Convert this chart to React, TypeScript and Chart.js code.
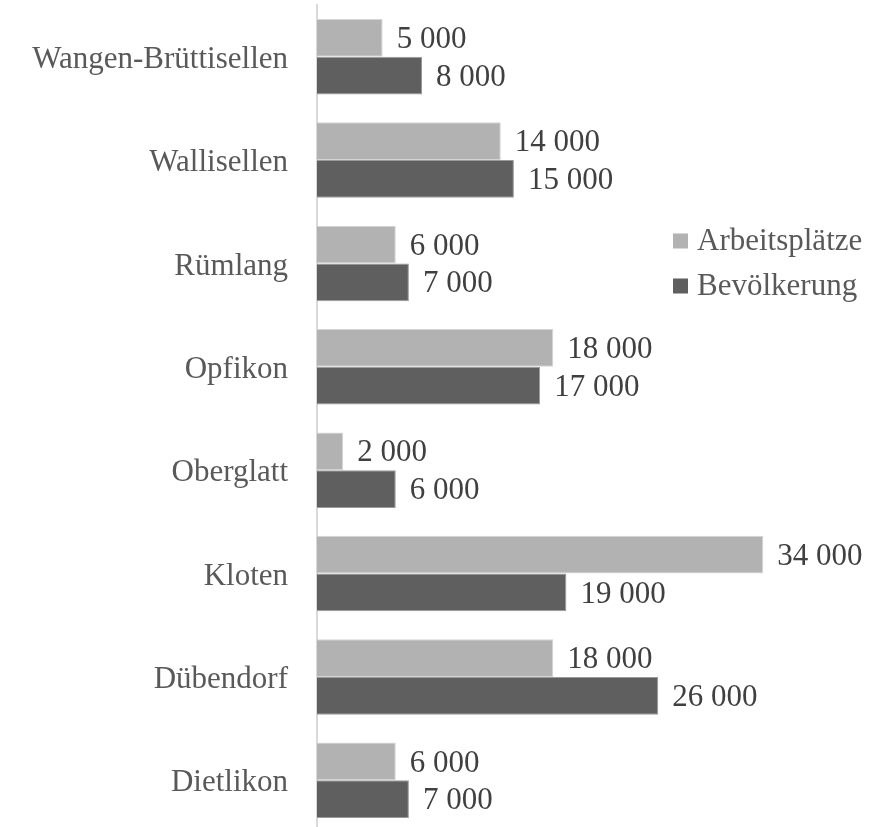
import React, { useEffect, useRef } from "react";
import { Chart, registerables } from "chart.js";

Chart.register(...registerables);

const categories = [
  "Wangen-Brüttisellen",
  "Wallisellen",
  "Rümlang",
  "Opfikon",
  "Oberglatt",
  "Kloten",
  "Dübendorf",
  "Dietlikon",
];
const arbeitsplaetze = [5000, 14000, 6000, 18000, 2000, 34000, 18000, 6000];
const bevoelkerung = [8000, 15000, 7000, 17000, 6000, 19000, 26000, 7000];
const seriesNames = ["Arbeitsplätze", "Bevölkerung"];
const seriesColors = ["#b2b2b2", "#5f5f5f"];

const FONT = "'Liberation Serif', 'Times New Roman', serif";

function fmt(v: number): string {
  const s = String(Math.round(v));
  return s.replace(/\B(?=(\d{3})+(?!\d))/g, " ");
}

const labelPlugin = {
  id: "barLabels",
  afterDatasetsDraw(chart: any) {
    const ctx = chart.ctx;
    ctx.save();
    ctx.font = `31px ${FONT}`;
    ctx.fillStyle = "#404040";
    ctx.textAlign = "left";
    ctx.textBaseline = "middle";
    chart.data.datasets.forEach((ds: any, di: number) => {
      const meta = chart.getDatasetMeta(di);
      meta.data.forEach((bar: any, i: number) => {
        ctx.fillText(fmt(ds.data[i]), bar.x + 14, bar.y + 2);
      });
    });
    ctx.restore();
  },
};

const legendPlugin = {
  id: "customLegend",
  afterDraw(chart: any) {
    const ctx = chart.ctx;
    ctx.save();
    ctx.font = `31px ${FONT}`;
    ctx.textAlign = "left";
    ctx.textBaseline = "middle";
    const x0 = 673;
    const ys = [241, 286];
    seriesNames.forEach((name, i) => {
      ctx.fillStyle = seriesColors[i];
      ctx.fillRect(x0, ys[i] - 7.5, 15, 15);
      ctx.fillStyle = "#595959";
      ctx.fillText(name, x0 + 24, ys[i] + 1);
    });
    ctx.restore();
  },
};

export default function App() {
  const ref = useRef<HTMLCanvasElement | null>(null);
  useEffect(() => {
    if (!ref.current) return;
    const chart = new Chart(ref.current, {
      type: "bar",
      data: {
        labels: categories,
        datasets: [
          {
            label: seriesNames[0],
            data: arbeitsplaetze,
            backgroundColor: seriesColors[0],
            borderColor: "#d4d4d4",
            borderWidth: 1,
          },
          {
            label: seriesNames[1],
            data: bevoelkerung,
            backgroundColor: seriesColors[1],
            borderColor: "#9a9a9a",
            borderWidth: 1,
          },
        ],
      },
      options: {
        indexAxis: "y",
        animation: false,
        responsive: false,
        maintainAspectRatio: false,
        categoryPercentage: 0.73,
        barPercentage: 1,
        layout: { padding: { top: 5, bottom: 4, left: 0, right: 0 } },
        plugins: {
          legend: { display: false },
          tooltip: { enabled: false },
        },
        scales: {
          x: {
            display: false,
            min: 0,
            max: 43500,
          },
          y: {
            afterFit: (scale: any) => {
              scale.width = 317;
              scale.paddingTop = 0;
              scale.paddingBottom = 0;
            },
            grid: { display: false, drawTicks: false },
            border: { display: true, color: "#d9d9d9", width: 2 },
            ticks: {
              padding: 29,
              labelOffset: 3,
              color: "#595959",
              font: { family: FONT, size: 31 },
            },
          },
        },
      },
      plugins: [labelPlugin, legendPlugin],
    });
    return () => chart.destroy();
  }, []);
  return (
    <div style={{ position: "fixed", left: 0, top: 0, width: 888, height: 836, background: "#ffffff" }}>
      <canvas ref={ref} width={888} height={836} style={{ display: "block" }} />
    </div>
  );
}
